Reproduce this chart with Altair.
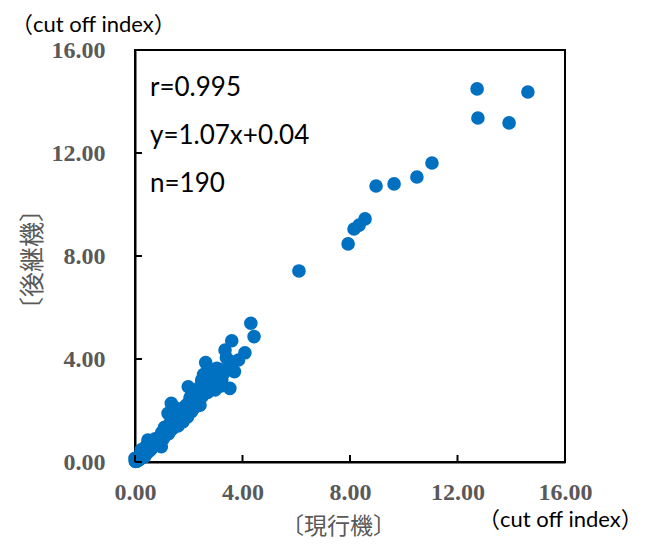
import altair as alt
import pandas as pd

# Reading of the scatter (current model vs successor model, cut off index)
x_vals = [
    12.73, 14.62, 12.76, 13.92, 11.05, 10.49, 9.64, 8.97, 8.56, 8.34, 8.15, 7.93, 6.10,
    4.31, 4.43, 3.60, 3.35, 4.09, 3.85, 2.63, 3.04, 3.47, 3.70, 2.85, 2.48, 3.23, 3.53,
    2.98, 1.98, 2.60, 2.23, 2.42, 1.92, 2.59, 1.35, 1.91, 1.23, 1.79, 1.23, 0.92, 0.48,
    0.98, 0.23, 0.00, 0.36,
    2.75, 2.90, 3.10, 3.30, 3.15, 3.55, 3.40, 2.70, 2.55, 2.30, 2.40, 2.15, 2.05, 2.50,
    2.70, 3.20, 2.20, 2.00, 1.80, 1.70, 1.60, 1.50, 1.45, 1.55, 1.65, 1.40, 1.30, 1.50,
    1.35, 1.20, 1.10, 1.00, 1.15, 1.05, 0.85, 0.75, 0.70, 0.80, 0.65, 0.60, 0.55, 0.50,
    0.45, 0.40, 0.35, 0.30, 0.28, 0.25, 0.20, 0.18, 0.15, 0.12, 0.10, 0.08, 0.05, 0.03,
    0.02, 0.06, 0.10, 0.14, 0.20, 0.25, 0.30, 0.40, 0.45, 0.55, 0.60, 0.70, 0.85, 0.90,
    1.10, 1.25, 1.40, 1.60, 1.70, 1.85, 1.95, 2.10, 2.30,
    0.01, 0.04, 0.07, 0.09, 0.11, 0.13, 0.16, 0.19, 0.22, 0.26, 0.32, 0.38, 0.42, 0.52,
    0.58, 0.66, 0.72, 0.78, 0.88, 0.95, 1.02, 1.08, 1.18, 1.28, 1.38, 1.48, 1.58, 1.68,
]
y_vals = [
    14.49, 14.37, 13.36, 13.17, 11.61, 11.07, 10.80, 10.72, 9.44, 9.20, 9.05, 8.47, 7.42,
    5.39, 4.87, 4.71, 4.35, 4.24, 3.96, 3.86, 3.64, 3.64, 3.51, 3.38, 3.18, 3.18, 2.86,
    2.80, 2.92, 2.99, 2.34, 2.21, 2.02, 2.73, 2.28, 2.21, 1.89, 1.57, 1.37, 0.98, 0.85,
    0.59, 0.47, 0.14, 0.21,
    3.10, 3.00, 3.30, 3.45, 3.60, 3.90, 4.05, 3.55, 3.40, 2.60, 2.90, 2.70, 2.50, 2.55,
    2.70, 2.95, 2.10, 2.30, 2.10, 1.95, 2.00, 2.10, 1.85, 1.70, 1.60, 1.60, 1.50, 1.45,
    1.25, 1.20, 1.35, 1.15, 1.05, 0.90, 0.80, 0.90, 0.75, 0.65, 0.60, 0.80, 0.65, 0.55,
    0.45, 0.60, 0.40, 0.35, 0.25, 0.30, 0.20, 0.25, 0.15, 0.18, 0.10, 0.12, 0.05, 0.08,
    0.02, 0.03, 0.05, 0.08, 0.12, 0.18, 0.20, 0.30, 0.35, 0.45, 0.50, 0.60, 0.70, 0.85,
    1.00, 1.10, 1.30, 1.40, 1.75, 1.85, 1.75, 1.95, 2.25,
    0.03, 0.06, 0.04, 0.10, 0.14, 0.09, 0.17, 0.22, 0.16, 0.28, 0.27, 0.43, 0.40, 0.50,
    0.62, 0.70, 0.82, 0.72, 0.92, 1.00, 1.08, 1.18, 1.30, 1.42, 1.55, 1.62, 1.80, 1.90,
]
tick_values = [0, 4, 8, 12, 16]
stat_lines = ["r=0.995", "y=1.07x+0.04", "n=190"]
unit_label = "（cut off index）"
x_title = "〔現行機〕"
y_title = "〔後継機〕"

df = pd.DataFrame({"x": x_vals, "y": y_vals})
ticks = pd.DataFrame({"v": tick_values})

W, H = 430, 412
label_font = "Liberation Serif"
gray = "#595959"

xscale = alt.Scale(domain=[0, 16], nice=False, zero=False)
yscale = alt.Scale(domain=[0, 16], nice=False, zero=False)

xaxis = alt.Axis(
    values=tick_values, format=".2f", grid=False, ticks=False,
    labelFont=label_font, labelFontWeight="bold", labelFontSize=24, labelColor=gray,
    labelPadding=18, labelFlush=False, labelOverlap=False,
    domainColor="black", domainWidth=2,
    title=x_title, titleFont="Noto Sans CJK JP", titleFontSize=23, titleFontWeight="normal",
    titleColor=gray, titleX=203, titleY=71, titleBaseline="alphabetic",
)
yaxis = alt.Axis(
    values=tick_values, format=".2f", grid=False, ticks=False,
    labelFont=label_font, labelFontWeight="bold", labelFontSize=24, labelColor=gray,
    labelPadding=30, labelFlush=False, labelOverlap=False,
    domainColor="black", domainWidth=2,
    title=y_title, titleFont="Noto Sans CJK JP", titleFontSize=25, titleFontWeight="normal",
    titleColor=gray, titleX=-95, titleY=209, titleAngle=270, titleBaseline="alphabetic",
)

points = alt.Chart(df).mark_circle(size=185, color="#0070C0", opacity=1).encode(
    x=alt.X("x:Q", scale=xscale, axis=xaxis, title=x_title),
    y=alt.Y("y:Q", scale=yscale, axis=yaxis, title=y_title),
)

xticks = alt.Chart(ticks).mark_rule(color="black", strokeWidth=2).encode(
    x=alt.X("v:Q", scale=xscale, axis=xaxis, title=x_title), y=alt.value(H), y2=alt.value(H - 7)
)
yticks = alt.Chart(ticks).mark_rule(color="black", strokeWidth=2).encode(
    y=alt.Y("v:Q", scale=yscale, axis=yaxis, title=y_title), x=alt.value(0), x2=alt.value(7)
)

def txt(s, px, py, font="Lato", size=26):
    return alt.Chart(pd.DataFrame({"t": [s]})).mark_text(
        align="left", baseline="middle", font=font, fontSize=size, color="black"
    ).encode(text="t:N", x=alt.value(px), y=alt.value(py))

stats = [txt(s, 15, 38 + i * 48) for i, s in enumerate(stat_lines)]
unit_font = "Lato, Noto Sans CJK JP"
unit_top = txt(unit_label, -124, -25, font=unit_font, size=22)
unit_bottom = txt(unit_label, 343, 470, font=unit_font, size=22)

chart = alt.layer(points, xticks, yticks, *stats, unit_top, unit_bottom).properties(
    width=W, height=H,
    background="white",
    autosize=alt.AutoSizeParams(type="none"),
    padding={"left": 127, "top": 42, "right": 78, "bottom": 77},
).configure_view(stroke="black", strokeWidth=2)

chart.save("out.html", embed_options={"renderer": "svg", "actions": False})
